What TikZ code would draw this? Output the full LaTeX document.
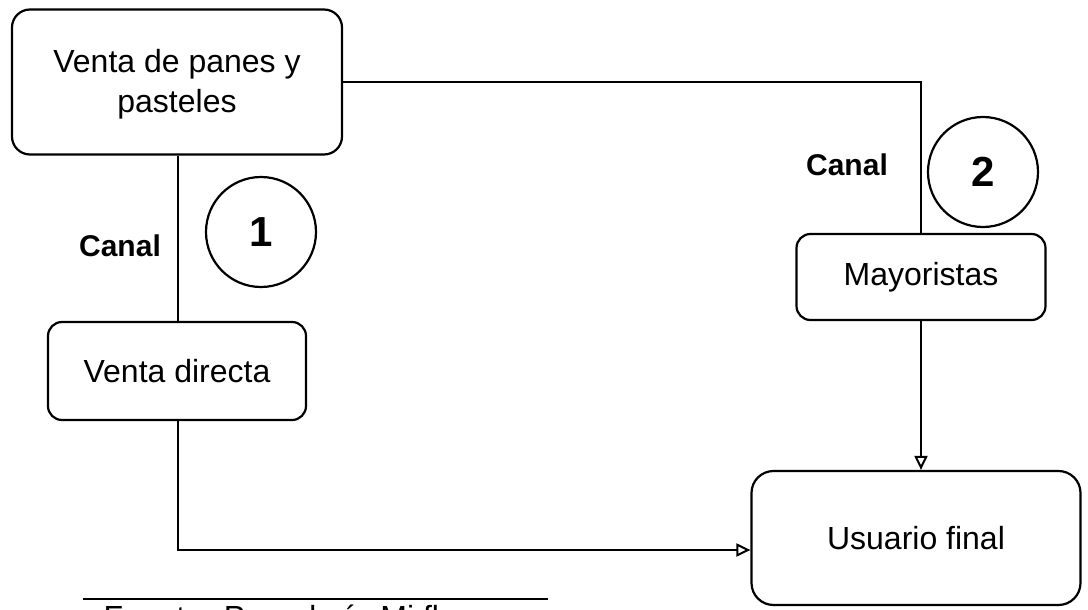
\documentclass[tikz,border=0pt]{standalone}
\usepackage{fontspec}
\setmainfont{Liberation Sans}
\usetikzlibrary{arrows.meta}
\begin{document}
\begin{tikzpicture}[x=1pt,y=-1pt,
  box/.style={draw, line width=2.2pt, rounded corners=18pt, align=center, inner sep=0pt},
  conn/.style={line width=2pt},
  arr/.style={line width=2pt, -{Triangle[open, length=14pt, width=13pt, line width=2pt]}},
  lbl/.style={font=\fontsize{30}{34}\selectfont\bfseries},
  num/.style={draw, circle, line width=2.2pt, minimum size=110pt, inner sep=0pt, font=\fontsize{42}{46}\selectfont\bfseries},
  txt/.style={font=\fontsize{32}{40}\selectfont}]
\useasboundingbox (0,0) rectangle (1088,610);
\node[box, minimum width=330pt, minimum height=145pt, txt] (venta) at (177,82) {\strut Venta de panes y\\pasteles};
\node[box, minimum width=258pt, minimum height=98pt, txt, rounded corners=14pt] (directa) at (177,371) {Venta directa};
\node[box, minimum width=249pt, minimum height=86pt, txt, rounded corners=14pt] (mayor) at (921,277) {Mayoristas};
\node[box, minimum width=329pt, minimum height=134pt, txt, rounded corners=22pt] (usuario) at (916,538) {Usuario final};
\node[num] (c1) at (261,232) {1};
\node[num] (c2) at (983,172) {2};
\node[lbl] (canal1) at (120,246) {Canal};
\node[lbl] (canal2) at (847,165) {Canal};
\coordinate (k1) at (921,82);
\coordinate (k2) at (178,550);
\draw[conn] (venta.east |- k1) -- (k1) -- (k1 |- mayor.north);
\draw[conn] (k2 |- venta.south) -- (k2 |- directa.north);
\draw[arr] (k2 |- directa.south) -- (k2) -- (usuario.west |- k2);
\draw[arr] (k1 |- mayor.south) -- (k1 |- usuario.north);
\coordinate (f1) at (83,599);
\coordinate (f2) at (548,599);
\draw[line width=2pt] (f1) -- (f2);
\node[txt, anchor=base west] (fuente) at (100,628) {Fuente: Panadería Mi flor};
\end{tikzpicture}
\end{document}
